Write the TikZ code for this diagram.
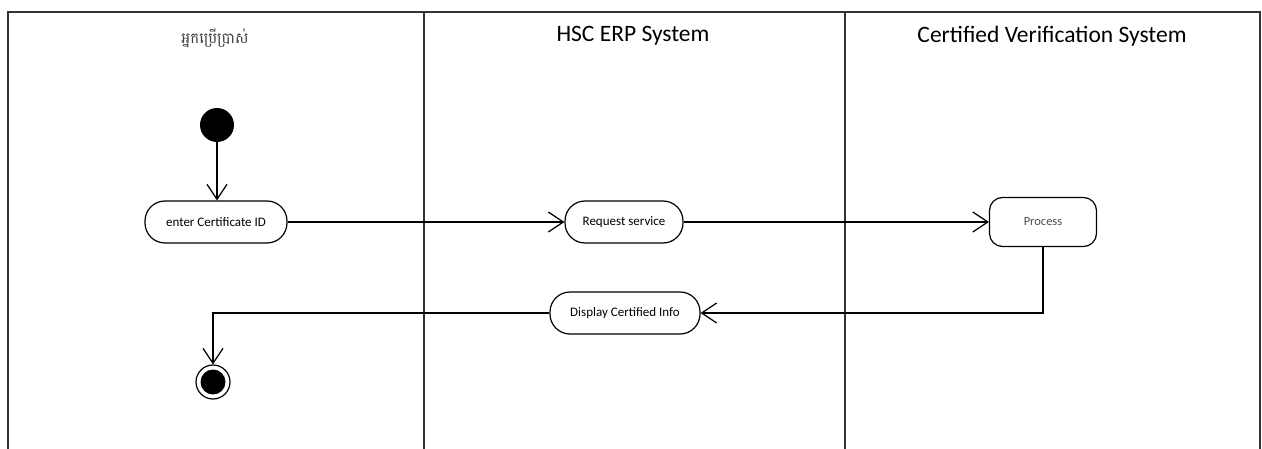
\documentclass[tikz,border=0pt]{standalone}
\usepackage{fontspec}
\setmainfont{Carlito}
\newfontfamily\khmerfont[Script=Khmer]{Battambang}
\usetikzlibrary{arrows.meta}
\begin{document}
\begin{tikzpicture}[x=1pt,y=-1pt,
  lane/.style={line width=1.3pt,draw=black!80},
  action/.style={draw,line width=1.2pt,rounded corners=20pt,minimum height=42pt,inner sep=0pt,font=\fontsize{13}{15}\selectfont},
  proc/.style={draw,line width=1.2pt,rounded corners=13pt,minimum height=49pt,minimum width=107pt,inner sep=0pt,font=\fontsize{12.5}{14}\selectfont,text=black!70},
  flow/.style={line width=1.2pt,-{Straight Barb[length=15pt,width=20pt,line width=1.2pt]}},
  lanehead/.style={font=\fontsize{23.5}{28}\selectfont}]
\useasboundingbox (0,0) rectangle (1262,449);
\fill[white] (0,0) rectangle (1262,449);
% swimlane frame
\draw[lane] (8,449) -- (8,12) -- (1260,12) -- (1260,449);
\draw[lane] (424,12) -- (424,449);
\draw[lane] (845,12) -- (845,449);
% lane titles
\node[font=\khmerfont\fontsize{15}{18}\selectfont,text=black!75] (h1) at (215,38) {អ្នកប្រើប្រាស់};
\node[lanehead] (h2) at (633,36) {HSC ERP System};
\node[lanehead] (h3) at (1052,36) {Certified Verification System};
% activities
\node[circle,fill=black,minimum size=34pt,inner sep=0pt] (start) at (217,125) {};
\node[action,minimum width=142pt] (enter) at (216,222) {enter Certificate ID};
\node[action,minimum width=118pt] (req) at (624,222) {Request service};
\node[proc] (proc) at (1043,222) {Process};
\node[action,minimum width=150pt] (disp) at (625,313) {Display Certified Info};
\node[circle,draw,line width=1.2pt,minimum size=34pt,inner sep=0pt] (end) at (213,382) {};
\node[circle,fill=black,minimum size=25pt,inner sep=0pt] at (end) {};
% control flow
\draw[flow] (start) -- (start |- enter.north);
\draw[flow] (enter) -- (req);
\draw[flow] (req) -- (proc);
\draw[flow] (proc.south) |- (disp.east);
\draw[flow] (disp.west) -| (end.north);
\end{tikzpicture}
\end{document}
